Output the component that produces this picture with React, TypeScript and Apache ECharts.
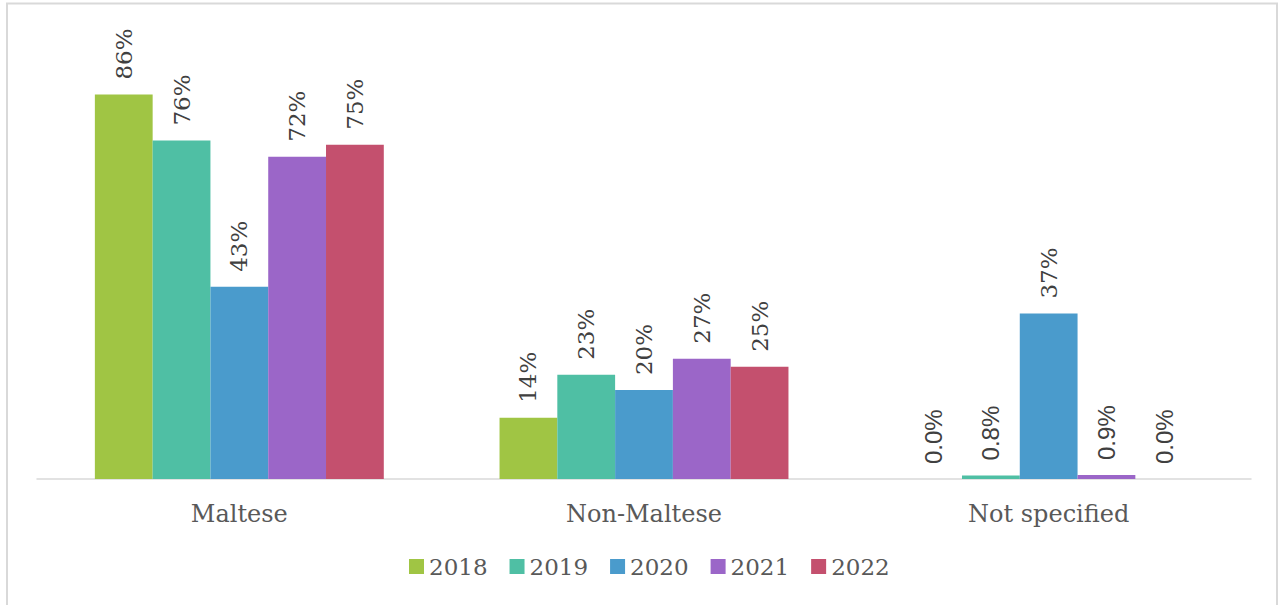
import React, { useEffect, useRef } from "react";
import * as echarts from "echarts";

const categories = ["Maltese", "Non-Maltese", "Not specified"];
const years = ["2018", "2019", "2020", "2021", "2022"];
const values2018 = [86.0, 13.7, 0.0];
const values2019 = [75.7, 23.3, 0.8];
const values2020 = [43.0, 19.9, 37.0];
const values2021 = [72.1, 26.9, 0.9];
const values2022 = [74.8, 25.1, 0.0];
const seriesValues = [values2018, values2019, values2020, values2021, values2022];
const colors = ["#A0C544", "#4FBFA4", "#4A9BCC", "#9B66C8", "#C4506E"];

export default function App() {
  const ref = useRef<HTMLDivElement>(null);
  useEffect(() => {
    if (!ref.current) return;
    const chart = echarts.init(ref.current, undefined, { renderer: "svg" });
    const textColor = "#595959";
    const series = years.map((y, si) => ({
      name: y,
      type: "bar",
      barGap: "0%",
      barCategoryGap: "28.6%",
      itemStyle: { color: colors[si] },
      data: seriesValues[si].map((v) => {
        const small = v < 1;
        return {
          value: v,
          label: {
            show: true,
            position: "top",
            rotate: 90,
            align: "left",
            verticalAlign: "middle",
            distance: 15,
            color: "#404040",
            fontFamily: small ? "Liberation Sans" : "DejaVu Serif",
            fontSize: small ? 24 : 23,
            formatter: () => (small ? v.toFixed(1) + "%" : Math.round(v) + "%"),
          },
        };
      }),
    }));
    chart.setOption({
      animation: false,
      color: colors,
      grid: { left: 37, right: 30, top: 32, bottom: 126 },
      xAxis: {
        type: "category",
        data: categories,
        axisLine: { show: true, lineStyle: { color: "#D9D9D9", width: 1.5 } },
        axisTick: { show: false },
        axisLabel: {
          color: textColor,
          fontFamily: "DejaVu Serif",
          fontSize: 24,
          margin: 23,
        },
      },
      yAxis: {
        type: "value",
        min: 0,
        max: 100,
        show: false,
        splitLine: { show: false },
      },
      legend: {
        data: years,
        top: 550,
        left: 404,
        itemWidth: 15,
        itemHeight: 15,
        itemGap: 22,
        icon: "rect",
        textStyle: { color: textColor, fontFamily: "DejaVu Serif", fontSize: 23 },
      },
      graphic: [
        {
          type: "polyline",
          shape: { points: [[7, 610], [7, 3.5], [1277, 3.5], [1277, 610]] },
          style: { stroke: "#D9D9D9", lineWidth: 2, fill: "none" },
          silent: true,
        },
      ],
      series,
    });
    return () => chart.dispose();
  }, []);
  return (
    <div
      ref={ref}
      style={{ position: "fixed", left: 0, top: 0, width: 1281, height: 605, background: "#fff" }}
    />
  );
}
